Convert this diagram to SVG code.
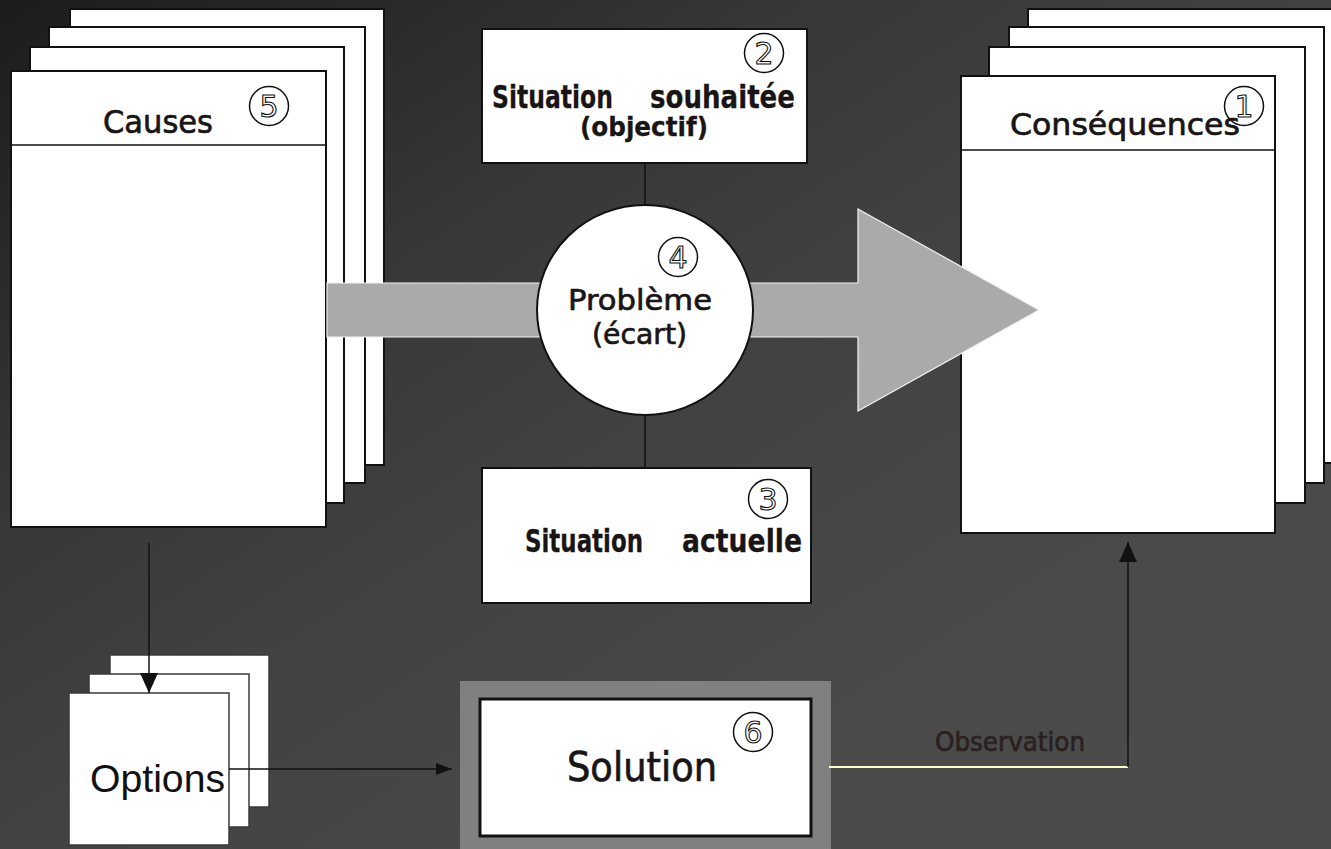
<svg xmlns="http://www.w3.org/2000/svg" width="1331" height="849" viewBox="0 0 1331 849">
<defs>
<linearGradient id="bg" x1="0" y1="0" x2="1" y2="1">
<stop offset="0" stop-color="#1c1c1c"/>
<stop offset="0.3" stop-color="#373737"/>
<stop offset="0.5" stop-color="#424242"/>
<stop offset="0.75" stop-color="#4a4a4a"/>
<stop offset="1" stop-color="#4b4b4b"/>
</linearGradient>
<marker id="ah" markerWidth="16" markerHeight="12" viewBox="0 0 16 12" refX="16" refY="6" orient="auto" markerUnits="userSpaceOnUse">
<path d="M0,0 L16,6 L0,12 Z" fill="#111"/>
</marker>
<marker id="ahb" markerWidth="20" markerHeight="20" viewBox="0 0 20 20" refX="20" refY="10" orient="auto" markerUnits="userSpaceOnUse">
<path d="M0,1 L20,10 L0,19 Z" fill="#111"/>
</marker>
<style>
.page{fill:#fff;stroke:#111;stroke-width:2}
.opt{fill:#fff;stroke:#3a3a3a;stroke-width:1.5}
.box{fill:#fff;stroke:#111;stroke-width:2}
.t{font-family:"DejaVu Sans","Liberation Sans",sans-serif;fill:#1a1515;stroke:#1a1515;stroke-width:0.7}
.b{font-weight:bold;stroke-width:0.3}
.num{fill:#fff;stroke:#111;stroke-width:1.5}
.dig{font-family:"DejaVu Sans","Liberation Sans",sans-serif;font-size:30px;fill:#fff;stroke:#111;stroke-width:1.1;text-anchor:middle}
.ln{stroke:#111;stroke-width:1.5;fill:none}
</style>
</defs>
<rect x="0" y="0" width="1331" height="849" fill="url(#bg)"/>

<g id="causes">
<rect class="page" x="70" y="9" width="314" height="456"/>
<rect class="page" x="49" y="27" width="316" height="456"/>
<rect class="page" x="30" y="47" width="314" height="456"/>
<rect class="page" x="11" y="71" width="315" height="456"/>
<line class="ln" x1="11" y1="145" x2="326" y2="145"/>
<text class="t" x="103" y="133" font-size="32" textLength="110" lengthAdjust="spacingAndGlyphs">Causes</text>
<circle class="num" cx="269" cy="106" r="19.5"/>
<text class="dig" x="269" y="117">5</text>
</g>

<g id="consequences">
<rect class="page" x="1028" y="9" width="310" height="454"/>
<rect class="page" x="1009" y="27" width="315" height="456"/>
<rect class="page" x="989" y="47" width="316" height="456"/>
<rect class="page" x="961" y="76" width="314" height="457"/>
<line class="ln" x1="961" y1="150" x2="1275" y2="150"/>
<text class="t" x="1010" y="135" font-size="31" textLength="230" lengthAdjust="spacingAndGlyphs">Conséquences</text>
<circle cx="1244" cy="106" r="19.5" fill="none" stroke="#111" stroke-width="1.5"/>
<text class="dig" x="1244" y="117">1</text>
</g>

<g id="flow-arrow">
<polygon points="327,283 858,283 858,209 1039,310 858,411 858,337 327,337" fill="#aaaaaa" stroke="#f2f2f2" stroke-width="1.2"/>
</g>

<g id="souhaitee">
<rect class="box" x="482" y="29" width="325" height="134"/>
<text class="t b" font-size="32"><tspan x="492" y="108" textLength="121" lengthAdjust="spacingAndGlyphs">Situation</tspan> <tspan x="650" y="108" textLength="145" lengthAdjust="spacingAndGlyphs">souhaitée</tspan></text>
<text class="t b" x="580" y="136" font-size="27" textLength="128" lengthAdjust="spacingAndGlyphs">(objectif)</text>
<circle class="num" cx="764" cy="53" r="19.5"/>
<text class="dig" x="764" y="64">2</text>
</g>

<g id="probleme">
<ellipse cx="645" cy="310" rx="108" ry="105" fill="#fff" stroke="#111" stroke-width="2"/>
<text class="t" x="568" y="310" font-size="29" textLength="144" lengthAdjust="spacingAndGlyphs">Problème</text>
<text class="t" x="592" y="344" font-size="29" textLength="95" lengthAdjust="spacingAndGlyphs">(écart)</text>
<circle class="num" cx="678" cy="257" r="19.5"/>
<text class="dig" x="678" y="268">4</text>
</g>

<g id="actuelle">
<rect class="box" x="482" y="468" width="329" height="135"/>
<text class="t b" font-size="32"><tspan x="525" y="552" textLength="118" lengthAdjust="spacingAndGlyphs">Situation</tspan> <tspan x="682" y="552" textLength="120" lengthAdjust="spacingAndGlyphs">actuelle</tspan></text>
<circle class="num" cx="768" cy="499" r="19.5"/>
<text class="dig" x="768" y="510">3</text>
</g>

<g id="options">
<rect class="opt" x="110" y="655" width="159" height="152"/>
<rect class="opt" x="89" y="674" width="160" height="153"/>
<rect class="opt" x="69" y="693" width="160" height="152"/>
<text x="90" y="792" font-family="Liberation Sans, Arial, sans-serif" font-size="39" fill="#111" textLength="135" lengthAdjust="spacingAndGlyphs">Options</text>
</g>

<g id="solution">
<rect x="460" y="681" width="371" height="170" fill="#808080"/>
<rect x="480" y="699" width="331" height="137" fill="#fff" stroke="#111" stroke-width="3"/>
<text class="t" x="567" y="781" font-size="41" textLength="150" lengthAdjust="spacingAndGlyphs">Solution</text>
<circle class="num" cx="753" cy="732" r="19.5"/>
<text class="dig" x="753" y="743">6</text>
</g>

<g id="connectors">
<line class="ln" x1="645" y1="163" x2="645" y2="205"/>
<line class="ln" x1="645" y1="415" x2="645" y2="468"/>
<line class="ln" x1="149" y1="543" x2="149" y2="693" stroke-width="1.2" marker-end="url(#ahb)"/>
<line class="ln" x1="229" y1="769" x2="452" y2="769" stroke-width="1.2" marker-end="url(#ah)"/>
<line x1="829" y1="767" x2="1128" y2="767" stroke="#ffffc8" stroke-width="2"/>
<polyline class="ln" points="1128,767 1128,542" marker-end="url(#ahb)"/>
<text class="t" x="935" y="751" font-size="27" style="fill:#2a2020;stroke:#2a2020" textLength="150" lengthAdjust="spacingAndGlyphs">Observation</text>
</g>
</svg>
